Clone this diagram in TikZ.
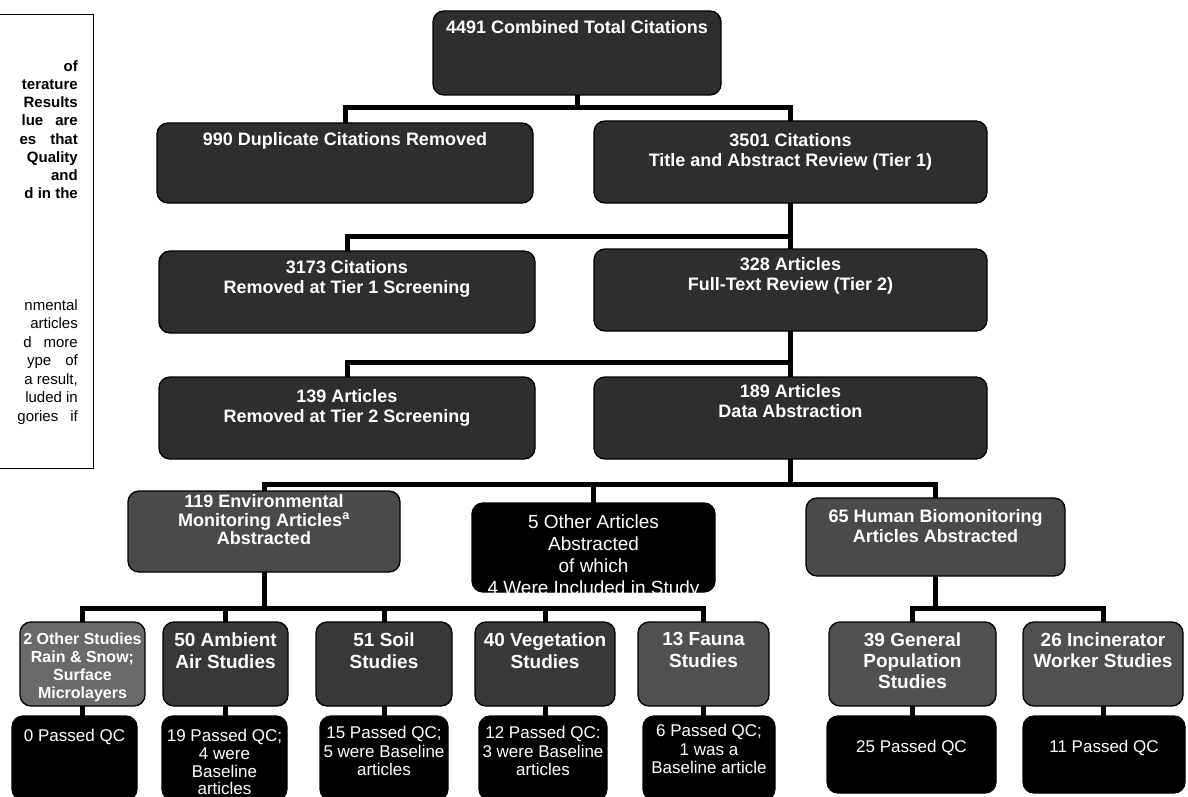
\documentclass[tikz,border=0pt]{standalone}
\usepackage{fontspec}
\setmainfont{Liberation Sans}
\definecolor{shadeA}{HTML}{2E2E2E}
\definecolor{shadeB}{HTML}{4A4A4A}
\definecolor{shadeC}{HTML}{6A6A6A}
\definecolor{shadeD}{HTML}{383838}
\definecolor{shadeE}{HTML}{505050}
\pgfdeclarelayer{bg}
\pgfsetlayers{bg,main}
\begin{document}
\begin{tikzpicture}[x=1pt, y=-1pt,
  panel/.style={draw=black, line width=1.3pt, rounded corners=11pt, inner sep=0pt},
  link/.style={line width=5pt, line cap=rect},
  head/.style={text=white, font=\fontsize{18}{20}\selectfont\bfseries, align=center, inner sep=0pt, anchor=north},
  subhead/.style={text=white, font=\fontsize{19}{22}\selectfont\bfseries, align=center, inner sep=0pt, anchor=north},
  plain/.style={text=white, font=\fontsize{17}{18.5}\selectfont, align=center, inner sep=0pt, anchor=north},
  note/.style={font=\fontsize{15}{18}\selectfont\bfseries, inner sep=0pt, anchor=base east},
  notereg/.style={font=\fontsize{15}{18}\selectfont, inner sep=0pt, anchor=base east},
]
\useasboundingbox (0,0) rectangle (1188,797);
\clip (0,0) rectangle (1188,797);

% side note (frame and the visible ends of its lines)
\draw[line width=1pt] (-5,15) -- (93,15) -- (93,468) -- (-5,468);
\node[note] (n1) at (78,72) {of};
\node[note] (n2) at (78,90) {terature};
\node[note] (n3) at (78,108) {Results};
\node[note] (n4) at (78,126) {lue\hspace{12pt}are};
\node[note] (n5) at (78,144) {es\hspace{14pt}that};
\node[note] (n6) at (78,162) {Quality};
\node[note] (n7) at (78,180) {and};
\node[note] (n8) at (78,198) {d in the};
\node[notereg] (m1) at (78,310) {nmental};
\node[notereg] (m2) at (78,328.5) {articles};
\node[notereg] (m3) at (78,347) {d\hspace{12pt}more};
\node[notereg] (m4) at (78,365.5) {ype\hspace{14pt}of};
\node[notereg] (m5) at (78,384) {a result,};
\node[notereg] (m6) at (78,402.5) {luded in};
\node[notereg] (m7) at (78,421) {gories\hspace{12pt}if};

% screening stages
\node[panel, fill=shadeA, minimum width=288pt, minimum height=84pt] (total) at (577,53) {};
\node[head] (totalT) at ([yshift=-10pt]total.north) {4491 Combined Total Citations};

\node[panel, fill=shadeA, minimum width=376pt, minimum height=80pt] (dup) at (345,163) {};
\node[head] (dupT) at ([yshift=-10pt]dup.north) {990 Duplicate Citations Removed};

\node[panel, fill=shadeA, minimum width=393pt, minimum height=82pt] (tierA) at (790.5,162) {};
\node[head] (tierAT) at ([yshift=-13pt]tierA.north) {3501 Citations\\Title and Abstract Review (Tier 1)};

\node[panel, fill=shadeA, minimum width=376pt, minimum height=82pt] (remA) at (347,292) {};
\node[head] (remAT) at ([yshift=-10pt]remA.north) {3173 Citations\\Removed at Tier 1 Screening};

\node[panel, fill=shadeA, minimum width=393pt, minimum height=82pt] (tierB) at (790.5,290) {};
\node[head] (tierBT) at ([yshift=-9pt]tierB.north) {328 Articles\\Full-Text Review (Tier 2)};

\node[panel, fill=shadeA, minimum width=376pt, minimum height=82pt] (remB) at (347,418) {};
\node[head] (remBT) at ([yshift=-13pt]remB.north) {139 Articles\\Removed at Tier 2 Screening};

\node[panel, fill=shadeA, minimum width=393pt, minimum height=82pt] (abst) at (790.5,418) {};
\node[head] (abstT) at ([yshift=-8pt]abst.north) {189 Articles\\Data Abstraction};

% abstracted article groups
\node[panel, fill=shadeB, minimum width=272pt, minimum height=81pt] (env) at (264,531.5) {};
\node[head, font=\fontsize{18}{18.5}\selectfont\bfseries] (envT) at ([yshift=-4pt]env.north) {119 Environmental\\Monitoring Articles\textsuperscript{a}\\Abstracted};

\node[panel, fill=black, minimum width=243pt, minimum height=89pt] (other) at (593.5,547.5) {};
\begin{scope}
  \clip[rounded corners=11pt] (other.south west) rectangle (other.north east);
  \node[plain, font=\fontsize{19}{22}\selectfont] (otherT) at ([yshift=-12pt]other.north) {5 Other Articles\\Abstracted\\of which\\4 Were Included in Study};
\end{scope}

\node[panel, fill=shadeB, minimum width=259pt, minimum height=78pt] (human) at (935.5,537) {};
\node[head] (humanT) at ([yshift=-12pt]human.north) {65 Human Biomonitoring\\Articles Abstracted};

% study types
\node[panel, fill=shadeC, minimum width=125pt, minimum height=84pt] (oth2) at (82.5,664) {};
\node[head, font=\fontsize{16}{18}\selectfont\bfseries] (oth2T) at ([yshift=-11pt]oth2.north) {2 Other Studies\\Rain \& Snow;\\Surface\\Microlayers};

\node[panel, fill=shadeD, minimum width=125pt, minimum height=84pt] (air) at (225.5,664) {};
\node[subhead] (airT) at ([yshift=-11pt]air.north) {50 Ambient\\Air Studies};

\node[panel, fill=shadeD, minimum width=136pt, minimum height=84pt] (soil) at (384,664) {};
\node[subhead] (soilT) at ([yshift=-11pt]soil.north) {51 Soil\\Studies};

\node[panel, fill=shadeD, minimum width=140pt, minimum height=84pt] (veg) at (545,664) {};
\node[subhead] (vegT) at ([yshift=-11pt]veg.north) {40 Vegetation\\Studies};

\node[panel, fill=shadeE, minimum width=131pt, minimum height=84pt] (fauna) at (703.5,664) {};
\node[subhead] (faunaT) at ([yshift=-11pt]fauna.north) {13 Fauna\\Studies};

\node[panel, fill=shadeE, minimum width=167pt, minimum height=84pt] (gen) at (912.5,664) {};
\node[subhead, font=\fontsize{19}{21}\selectfont\bfseries] (genT) at ([yshift=-11pt]gen.north) {39 General\\Population\\Studies};

\node[panel, fill=shadeE, minimum width=160pt, minimum height=84pt] (inc) at (1103,664) {};
\node[subhead, font=\fontsize{19}{21}\selectfont\bfseries] (incT) at ([yshift=-11pt]inc.north) {26 Incinerator\\Worker Studies};

% quality-control outcomes
\node[panel, fill=black, minimum width=125pt, minimum height=84pt] (qa) at (74.5,758) {};
\node[plain] (qaT) at ([yshift=-14pt]qa.north) {0 Passed QC};

\node[panel, fill=black, minimum width=125pt, minimum height=84pt] (qb) at (224.5,758) {};
\node[plain, font=\fontsize{17}{17.7}\selectfont] (qbT) at ([yshift=-14pt]qb.north) {19 Passed QC;\\4 were\\Baseline\\articles};

\node[panel, fill=black, minimum width=128pt, minimum height=84pt] (qc) at (384,758) {};
\node[plain] (qcT) at ([yshift=-11pt]qc.north) {15 Passed QC;\\5 were Baseline\\articles};

\node[panel, fill=black, minimum width=128pt, minimum height=84pt] (qd) at (543,758) {};
\node[plain] (qdT) at ([yshift=-11pt]qd.north) {12 Passed QC:\\3 were Baseline\\articles};

\node[panel, fill=black, minimum width=132pt, minimum height=84pt] (qe) at (709,758) {};
\node[plain] (qeT) at ([yshift=-9pt]qe.north) {6 Passed QC;\\1 was a\\Baseline article};

\node[panel, fill=black, minimum width=169pt, minimum height=77pt] (qf) at (911.5,754.5) {};
\node[plain] (qfT) at ([yshift=-25pt]qf.north) {25 Passed QC};

\node[panel, fill=black, minimum width=162pt, minimum height=77pt] (qg) at (1104,754.5) {};
\node[plain] (qgT) at ([yshift=-25pt]qg.north) {11 Passed QC};

% junction points of the connectors
\coordinate (j1) at (577,108);
\coordinate (j2) at (790.5,236);
\coordinate (j3) at (790.5,362);
\coordinate (j4) at (790.5,484);
\coordinate (j5) at (264,608);
\coordinate (j6) at (935.5,608);

\begin{pgfonlayer}{bg}
  \fill[white] (0,0) rectangle (1188,797);
  \draw[link] (total.south) -- (j1);
  \draw[link] (dup.north) |- (j1) -| (tierA.north);
  \draw[link] (tierA.south) -- (tierB.north);
  \draw[link] (remA.north) |- (j2);
  \draw[link] (tierB.south) -- (abst.north);
  \draw[link] (remB.north) |- (j3);
  \draw[link] (abst.south) -- (j4);
  \draw[link] (env.north) |- (j4) -| (human.north);
  \draw[link] (other.north) -- (other.north |- j4);
  \draw[link] (env.south) -- (j5);
  \draw[link] (oth2.north) |- (j5) -| (fauna.north);
  \foreach \n in {air,soil,veg} \draw[link] (\n.north) -- (\n.north |- j5);
  \draw[link] (human.south) -- (j6);
  \draw[link] (gen.north) |- (j6) -| (inc.north);
  \draw[link] (oth2.south) -- (oth2.south |- qa.north);
  \draw[link] (air.south) -- (air.south |- qb.north);
  \draw[link] (soil.south) -- (soil.south |- qc.north);
  \draw[link] (veg.south) -- (veg.south |- qd.north);
  \draw[link] (fauna.south) -- (fauna.south |- qe.north);
  \draw[link] (gen.south) -- (gen.south |- qf.north);
  \draw[link] (inc.south) -- (inc.south |- qg.north);
\end{pgfonlayer}
\end{tikzpicture}
\end{document}
